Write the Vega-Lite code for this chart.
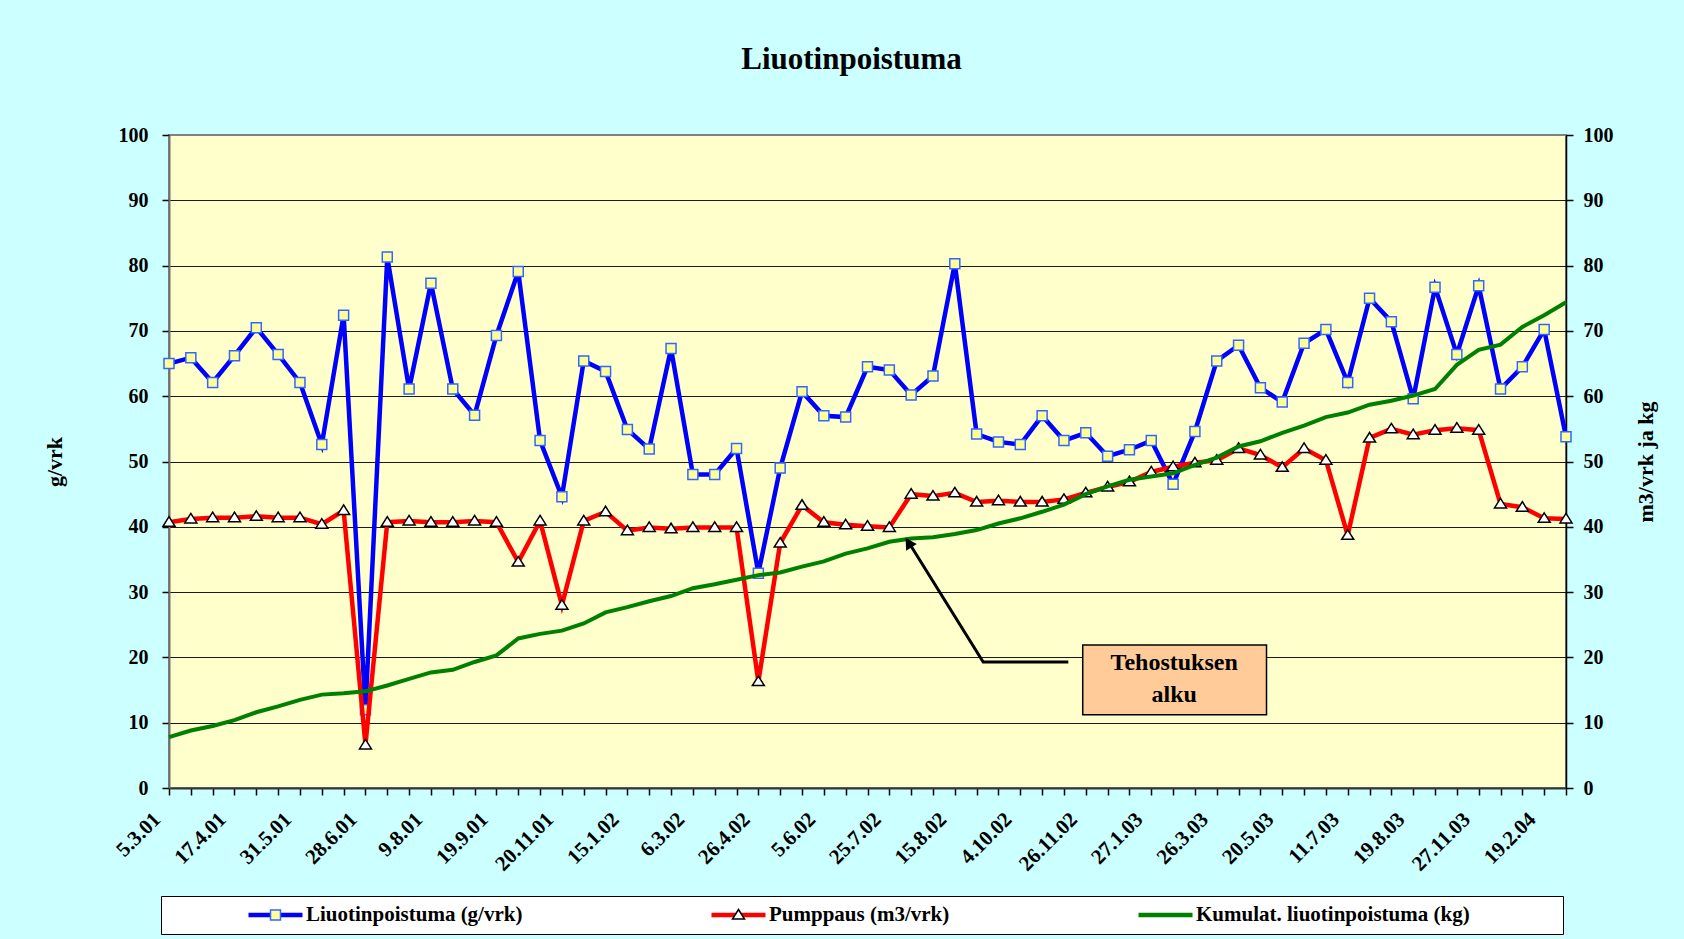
{
  "$schema": "https://vega.github.io/schema/vega-lite/v6.json",
  "width": 1397,
  "height": 653,
  "autosize": {"type": "none"},
  "padding": {"left": 169, "top": 135, "right": 118, "bottom": 151},
  "background": "#CCFFFF",
  "title": {"text": "Liuotinpoistuma", "font": "Liberation Serif", "fontSize": 31, "fontWeight": "bold", "color": "black", "anchor": "middle", "dx": -16, "offset": 25, "baseline": "alphabetic"},
  "config": {
    "view": {"fill": "#FFFFCC", "stroke": "#808080", "strokeWidth": 2},
    "axis": {"labelFont": "Liberation Serif", "labelFontSize": 20, "labelFontWeight": "bold", "labelColor": "black", "titleFont": "Liberation Serif", "titleFontSize": 22, "titleFontWeight": "bold", "titleColor": "black", "tickColor": "black", "tickSize": 7, "tickWidth": 1.5},
    "legend": {"labelFont": "Liberation Serif", "labelFontSize": 21, "labelFontWeight": "bold", "labelColor": "black", "labelLimit": 1000, "titleFont": "Liberation Serif", "titleFontSize": 10}
  },
  "datasets": {
    "main": [
      {"date":"5.3.01","series":"Liuotinpoistuma (g/vrk)","value":65.0},
      {"date":"19.3.01","series":"Liuotinpoistuma (g/vrk)","value":65.9},
      {"date":"3.4.01","series":"Liuotinpoistuma (g/vrk)","value":62.1},
      {"date":"17.4.01","series":"Liuotinpoistuma (g/vrk)","value":66.2},
      {"date":"2.5.01","series":"Liuotinpoistuma (g/vrk)","value":70.5},
      {"date":"16.5.01","series":"Liuotinpoistuma (g/vrk)","value":66.4},
      {"date":"31.5.01","series":"Liuotinpoistuma (g/vrk)","value":62.1},
      {"date":"12.6.01","series":"Liuotinpoistuma (g/vrk)","value":52.6},
      {"date":"20.6.01","series":"Liuotinpoistuma (g/vrk)","value":72.4},
      {"date":"28.6.01","series":"Liuotinpoistuma (g/vrk)","value":12.0},
      {"date":"12.7.01","series":"Liuotinpoistuma (g/vrk)","value":81.3},
      {"date":"26.7.01","series":"Liuotinpoistuma (g/vrk)","value":61.1},
      {"date":"9.8.01","series":"Liuotinpoistuma (g/vrk)","value":77.3},
      {"date":"23.8.01","series":"Liuotinpoistuma (g/vrk)","value":61.1},
      {"date":"5.9.01","series":"Liuotinpoistuma (g/vrk)","value":57.1},
      {"date":"19.9.01","series":"Liuotinpoistuma (g/vrk)","value":69.3},
      {"date":"10.10.01","series":"Liuotinpoistuma (g/vrk)","value":79.1},
      {"date":"31.10.01","series":"Liuotinpoistuma (g/vrk)","value":53.2},
      {"date":"20.11.01","series":"Liuotinpoistuma (g/vrk)","value":44.6},
      {"date":"11.12.01","series":"Liuotinpoistuma (g/vrk)","value":65.4},
      {"date":"28.12.01","series":"Liuotinpoistuma (g/vrk)","value":63.8},
      {"date":"15.1.02","series":"Liuotinpoistuma (g/vrk)","value":54.9},
      {"date":"31.1.02","series":"Liuotinpoistuma (g/vrk)","value":51.9},
      {"date":"19.2.02","series":"Liuotinpoistuma (g/vrk)","value":67.3},
      {"date":"6.3.02","series":"Liuotinpoistuma (g/vrk)","value":48.0},
      {"date":"20.3.02","series":"Liuotinpoistuma (g/vrk)","value":48.0},
      {"date":"4.4.02","series":"Liuotinpoistuma (g/vrk)","value":52.0},
      {"date":"26.4.02","series":"Liuotinpoistuma (g/vrk)","value":32.9},
      {"date":"14.5.02","series":"Liuotinpoistuma (g/vrk)","value":49.0},
      {"date":"23.5.02","series":"Liuotinpoistuma (g/vrk)","value":60.7},
      {"date":"5.6.02","series":"Liuotinpoistuma (g/vrk)","value":57.0},
      {"date":"20.6.02","series":"Liuotinpoistuma (g/vrk)","value":56.8},
      {"date":"4.7.02","series":"Liuotinpoistuma (g/vrk)","value":64.5},
      {"date":"25.7.02","series":"Liuotinpoistuma (g/vrk)","value":64.0},
      {"date":"1.8.02","series":"Liuotinpoistuma (g/vrk)","value":60.2},
      {"date":"8.8.02","series":"Liuotinpoistuma (g/vrk)","value":63.1},
      {"date":"15.8.02","series":"Liuotinpoistuma (g/vrk)","value":80.3},
      {"date":"3.9.02","series":"Liuotinpoistuma (g/vrk)","value":54.2},
      {"date":"17.9.02","series":"Liuotinpoistuma (g/vrk)","value":53.0},
      {"date":"4.10.02","series":"Liuotinpoistuma (g/vrk)","value":52.6},
      {"date":"23.10.02","series":"Liuotinpoistuma (g/vrk)","value":57.0},
      {"date":"8.11.02","series":"Liuotinpoistuma (g/vrk)","value":53.2},
      {"date":"26.11.02","series":"Liuotinpoistuma (g/vrk)","value":54.4},
      {"date":"16.12.02","series":"Liuotinpoistuma (g/vrk)","value":50.8},
      {"date":"8.1.03","series":"Liuotinpoistuma (g/vrk)","value":51.8},
      {"date":"27.1.03","series":"Liuotinpoistuma (g/vrk)","value":53.2},
      {"date":"17.2.03","series":"Liuotinpoistuma (g/vrk)","value":46.5},
      {"date":"5.3.03","series":"Liuotinpoistuma (g/vrk)","value":54.6},
      {"date":"26.3.03","series":"Liuotinpoistuma (g/vrk)","value":65.4},
      {"date":"15.4.03","series":"Liuotinpoistuma (g/vrk)","value":67.8},
      {"date":"5.5.03","series":"Liuotinpoistuma (g/vrk)","value":61.3},
      {"date":"20.5.03","series":"Liuotinpoistuma (g/vrk)","value":59.1},
      {"date":"6.6.03","series":"Liuotinpoistuma (g/vrk)","value":68.1},
      {"date":"24.6.03","series":"Liuotinpoistuma (g/vrk)","value":70.2},
      {"date":"11.7.03","series":"Liuotinpoistuma (g/vrk)","value":62.1},
      {"date":"25.7.03","series":"Liuotinpoistuma (g/vrk)","value":75.0},
      {"date":"6.8.03","series":"Liuotinpoistuma (g/vrk)","value":71.4},
      {"date":"19.8.03","series":"Liuotinpoistuma (g/vrk)","value":59.6},
      {"date":"24.9.03","series":"Liuotinpoistuma (g/vrk)","value":76.7},
      {"date":"27.10.03","series":"Liuotinpoistuma (g/vrk)","value":66.4},
      {"date":"27.11.03","series":"Liuotinpoistuma (g/vrk)","value":76.9},
      {"date":"22.12.03","series":"Liuotinpoistuma (g/vrk)","value":61.1},
      {"date":"22.1.04","series":"Liuotinpoistuma (g/vrk)","value":64.5},
      {"date":"19.2.04","series":"Liuotinpoistuma (g/vrk)","value":70.2},
      {"date":"18.3.04","series":"Liuotinpoistuma (g/vrk)","value":53.8},
      {"date":"5.3.01","series":"Pumppaus (m3/vrk)","value":40.7},
      {"date":"19.3.01","series":"Pumppaus (m3/vrk)","value":41.2},
      {"date":"3.4.01","series":"Pumppaus (m3/vrk)","value":41.4},
      {"date":"17.4.01","series":"Pumppaus (m3/vrk)","value":41.4},
      {"date":"2.5.01","series":"Pumppaus (m3/vrk)","value":41.6},
      {"date":"16.5.01","series":"Pumppaus (m3/vrk)","value":41.4},
      {"date":"31.5.01","series":"Pumppaus (m3/vrk)","value":41.4},
      {"date":"12.6.01","series":"Pumppaus (m3/vrk)","value":40.4},
      {"date":"20.6.01","series":"Pumppaus (m3/vrk)","value":42.5},
      {"date":"28.6.01","series":"Pumppaus (m3/vrk)","value":6.6},
      {"date":"12.7.01","series":"Pumppaus (m3/vrk)","value":40.7},
      {"date":"26.7.01","series":"Pumppaus (m3/vrk)","value":40.9},
      {"date":"9.8.01","series":"Pumppaus (m3/vrk)","value":40.7},
      {"date":"23.8.01","series":"Pumppaus (m3/vrk)","value":40.7},
      {"date":"5.9.01","series":"Pumppaus (m3/vrk)","value":40.9},
      {"date":"19.9.01","series":"Pumppaus (m3/vrk)","value":40.7},
      {"date":"10.10.01","series":"Pumppaus (m3/vrk)","value":34.6},
      {"date":"31.10.01","series":"Pumppaus (m3/vrk)","value":40.9},
      {"date":"20.11.01","series":"Pumppaus (m3/vrk)","value":28.0},
      {"date":"11.12.01","series":"Pumppaus (m3/vrk)","value":40.9},
      {"date":"28.12.01","series":"Pumppaus (m3/vrk)","value":42.3},
      {"date":"15.1.02","series":"Pumppaus (m3/vrk)","value":39.4},
      {"date":"31.1.02","series":"Pumppaus (m3/vrk)","value":39.9},
      {"date":"19.2.02","series":"Pumppaus (m3/vrk)","value":39.7},
      {"date":"6.3.02","series":"Pumppaus (m3/vrk)","value":39.9},
      {"date":"20.3.02","series":"Pumppaus (m3/vrk)","value":39.9},
      {"date":"4.4.02","series":"Pumppaus (m3/vrk)","value":39.9},
      {"date":"26.4.02","series":"Pumppaus (m3/vrk)","value":16.3},
      {"date":"14.5.02","series":"Pumppaus (m3/vrk)","value":37.5},
      {"date":"23.5.02","series":"Pumppaus (m3/vrk)","value":43.3},
      {"date":"5.6.02","series":"Pumppaus (m3/vrk)","value":40.7},
      {"date":"20.6.02","series":"Pumppaus (m3/vrk)","value":40.3},
      {"date":"4.7.02","series":"Pumppaus (m3/vrk)","value":40.1},
      {"date":"25.7.02","series":"Pumppaus (m3/vrk)","value":39.9},
      {"date":"1.8.02","series":"Pumppaus (m3/vrk)","value":45.0},
      {"date":"8.8.02","series":"Pumppaus (m3/vrk)","value":44.7},
      {"date":"15.8.02","series":"Pumppaus (m3/vrk)","value":45.2},
      {"date":"3.9.02","series":"Pumppaus (m3/vrk)","value":43.8},
      {"date":"17.9.02","series":"Pumppaus (m3/vrk)","value":44.0},
      {"date":"4.10.02","series":"Pumppaus (m3/vrk)","value":43.8},
      {"date":"23.10.02","series":"Pumppaus (m3/vrk)","value":43.8},
      {"date":"8.11.02","series":"Pumppaus (m3/vrk)","value":44.2},
      {"date":"26.11.02","series":"Pumppaus (m3/vrk)","value":45.2},
      {"date":"16.12.02","series":"Pumppaus (m3/vrk)","value":46.1},
      {"date":"8.1.03","series":"Pumppaus (m3/vrk)","value":46.9},
      {"date":"27.1.03","series":"Pumppaus (m3/vrk)","value":48.4},
      {"date":"17.2.03","series":"Pumppaus (m3/vrk)","value":49.2},
      {"date":"5.3.03","series":"Pumppaus (m3/vrk)","value":49.8},
      {"date":"26.3.03","series":"Pumppaus (m3/vrk)","value":50.2},
      {"date":"15.4.03","series":"Pumppaus (m3/vrk)","value":52.0},
      {"date":"5.5.03","series":"Pumppaus (m3/vrk)","value":51.0},
      {"date":"20.5.03","series":"Pumppaus (m3/vrk)","value":49.1},
      {"date":"6.6.03","series":"Pumppaus (m3/vrk)","value":52.0},
      {"date":"24.6.03","series":"Pumppaus (m3/vrk)","value":50.2},
      {"date":"11.7.03","series":"Pumppaus (m3/vrk)","value":38.7},
      {"date":"25.7.03","series":"Pumppaus (m3/vrk)","value":53.6},
      {"date":"6.8.03","series":"Pumppaus (m3/vrk)","value":55.0},
      {"date":"19.8.03","series":"Pumppaus (m3/vrk)","value":54.1},
      {"date":"24.9.03","series":"Pumppaus (m3/vrk)","value":54.8},
      {"date":"27.10.03","series":"Pumppaus (m3/vrk)","value":55.1},
      {"date":"27.11.03","series":"Pumppaus (m3/vrk)","value":54.8},
      {"date":"22.12.03","series":"Pumppaus (m3/vrk)","value":43.5},
      {"date":"22.1.04","series":"Pumppaus (m3/vrk)","value":43.0},
      {"date":"19.2.04","series":"Pumppaus (m3/vrk)","value":41.3},
      {"date":"18.3.04","series":"Pumppaus (m3/vrk)","value":41.2},
      {"date":"5.3.01","series":"Kumulat. liuotinpoistuma (kg)","value":7.8},
      {"date":"19.3.01","series":"Kumulat. liuotinpoistuma (kg)","value":8.8},
      {"date":"3.4.01","series":"Kumulat. liuotinpoistuma (kg)","value":9.5},
      {"date":"17.4.01","series":"Kumulat. liuotinpoistuma (kg)","value":10.4},
      {"date":"2.5.01","series":"Kumulat. liuotinpoistuma (kg)","value":11.6},
      {"date":"16.5.01","series":"Kumulat. liuotinpoistuma (kg)","value":12.5},
      {"date":"31.5.01","series":"Kumulat. liuotinpoistuma (kg)","value":13.5},
      {"date":"12.6.01","series":"Kumulat. liuotinpoistuma (kg)","value":14.3},
      {"date":"20.6.01","series":"Kumulat. liuotinpoistuma (kg)","value":14.5},
      {"date":"28.6.01","series":"Kumulat. liuotinpoistuma (kg)","value":14.8},
      {"date":"12.7.01","series":"Kumulat. liuotinpoistuma (kg)","value":15.7},
      {"date":"26.7.01","series":"Kumulat. liuotinpoistuma (kg)","value":16.7},
      {"date":"9.8.01","series":"Kumulat. liuotinpoistuma (kg)","value":17.7},
      {"date":"23.8.01","series":"Kumulat. liuotinpoistuma (kg)","value":18.1},
      {"date":"5.9.01","series":"Kumulat. liuotinpoistuma (kg)","value":19.3},
      {"date":"19.9.01","series":"Kumulat. liuotinpoistuma (kg)","value":20.3},
      {"date":"10.10.01","series":"Kumulat. liuotinpoistuma (kg)","value":22.9},
      {"date":"31.10.01","series":"Kumulat. liuotinpoistuma (kg)","value":23.6},
      {"date":"20.11.01","series":"Kumulat. liuotinpoistuma (kg)","value":24.1},
      {"date":"11.12.01","series":"Kumulat. liuotinpoistuma (kg)","value":25.2},
      {"date":"28.12.01","series":"Kumulat. liuotinpoistuma (kg)","value":26.9},
      {"date":"15.1.02","series":"Kumulat. liuotinpoistuma (kg)","value":27.7},
      {"date":"31.1.02","series":"Kumulat. liuotinpoistuma (kg)","value":28.6},
      {"date":"19.2.02","series":"Kumulat. liuotinpoistuma (kg)","value":29.4},
      {"date":"6.3.02","series":"Kumulat. liuotinpoistuma (kg)","value":30.6},
      {"date":"20.3.02","series":"Kumulat. liuotinpoistuma (kg)","value":31.2},
      {"date":"4.4.02","series":"Kumulat. liuotinpoistuma (kg)","value":31.9},
      {"date":"26.4.02","series":"Kumulat. liuotinpoistuma (kg)","value":32.6},
      {"date":"14.5.02","series":"Kumulat. liuotinpoistuma (kg)","value":33.0},
      {"date":"23.5.02","series":"Kumulat. liuotinpoistuma (kg)","value":33.9},
      {"date":"5.6.02","series":"Kumulat. liuotinpoistuma (kg)","value":34.7},
      {"date":"20.6.02","series":"Kumulat. liuotinpoistuma (kg)","value":35.9},
      {"date":"4.7.02","series":"Kumulat. liuotinpoistuma (kg)","value":36.7},
      {"date":"25.7.02","series":"Kumulat. liuotinpoistuma (kg)","value":37.7},
      {"date":"1.8.02","series":"Kumulat. liuotinpoistuma (kg)","value":38.2},
      {"date":"8.8.02","series":"Kumulat. liuotinpoistuma (kg)","value":38.4},
      {"date":"15.8.02","series":"Kumulat. liuotinpoistuma (kg)","value":38.9},
      {"date":"3.9.02","series":"Kumulat. liuotinpoistuma (kg)","value":39.5},
      {"date":"17.9.02","series":"Kumulat. liuotinpoistuma (kg)","value":40.5},
      {"date":"4.10.02","series":"Kumulat. liuotinpoistuma (kg)","value":41.3},
      {"date":"23.10.02","series":"Kumulat. liuotinpoistuma (kg)","value":42.3},
      {"date":"8.11.02","series":"Kumulat. liuotinpoistuma (kg)","value":43.4},
      {"date":"26.11.02","series":"Kumulat. liuotinpoistuma (kg)","value":45.0},
      {"date":"16.12.02","series":"Kumulat. liuotinpoistuma (kg)","value":46.2},
      {"date":"8.1.03","series":"Kumulat. liuotinpoistuma (kg)","value":47.2},
      {"date":"27.1.03","series":"Kumulat. liuotinpoistuma (kg)","value":47.7},
      {"date":"17.2.03","series":"Kumulat. liuotinpoistuma (kg)","value":48.2},
      {"date":"5.3.03","series":"Kumulat. liuotinpoistuma (kg)","value":49.5},
      {"date":"26.3.03","series":"Kumulat. liuotinpoistuma (kg)","value":50.6},
      {"date":"15.4.03","series":"Kumulat. liuotinpoistuma (kg)","value":52.3},
      {"date":"5.5.03","series":"Kumulat. liuotinpoistuma (kg)","value":53.1},
      {"date":"20.5.03","series":"Kumulat. liuotinpoistuma (kg)","value":54.4},
      {"date":"6.6.03","series":"Kumulat. liuotinpoistuma (kg)","value":55.5},
      {"date":"24.6.03","series":"Kumulat. liuotinpoistuma (kg)","value":56.8},
      {"date":"11.7.03","series":"Kumulat. liuotinpoistuma (kg)","value":57.5},
      {"date":"25.7.03","series":"Kumulat. liuotinpoistuma (kg)","value":58.7},
      {"date":"6.8.03","series":"Kumulat. liuotinpoistuma (kg)","value":59.3},
      {"date":"19.8.03","series":"Kumulat. liuotinpoistuma (kg)","value":60.1},
      {"date":"24.9.03","series":"Kumulat. liuotinpoistuma (kg)","value":61.1},
      {"date":"27.10.03","series":"Kumulat. liuotinpoistuma (kg)","value":64.8},
      {"date":"27.11.03","series":"Kumulat. liuotinpoistuma (kg)","value":67.1},
      {"date":"22.12.03","series":"Kumulat. liuotinpoistuma (kg)","value":67.9},
      {"date":"22.1.04","series":"Kumulat. liuotinpoistuma (kg)","value":70.6},
      {"date":"19.2.04","series":"Kumulat. liuotinpoistuma (kg)","value":72.4},
      {"date":"18.3.04","series":"Kumulat. liuotinpoistuma (kg)","value":74.4}
    ],
    "arrow": [
      {"ax": 41.2, "ay": 19.3, "o": 0},
      {"ax": 37.3, "ay": 19.3, "o": 1},
      {"ax": 33.8, "ay": 38.1, "o": 2}
    ],
    "head": [{"ax": 33.88, "ay": 37.56}],
    "note": [{"x1": 41.86, "x2": 50.28, "y1": 11.2, "y2": 21.9, "tx": 46.05, "ty": 19.2, "label": "Tehostuksen\nalku"}]
  },
  "layer": [
    {
      "data": {"name": "main"},
      "transform": [{"filter": "datum.series == 'Liuotinpoistuma (g/vrk)'"}],
      "encoding": {
        "x": {"field": "date", "type": "ordinal", "sort": null, "scale": {"type": "point", "padding": 0},
          "axis": {"orient": "bottom", "title": null, "labelAngle": -45, "labelAlign": "right", "labelBaseline": "middle", "labelFontSize": 21, "labelPadding": 21, "labelOffset": -12, "labelOverlap": false, "labelExpr": "indexof(['5.3.01','17.4.01','31.5.01','28.6.01','9.8.01','19.9.01','20.11.01','15.1.02','6.3.02','26.4.02','5.6.02','25.7.02','15.8.02','4.10.02','26.11.02','27.1.03','26.3.03','20.5.03','11.7.03','19.8.03','27.11.03','19.2.04'], datum.value) >= 0 ? datum.label : ''", "domainColor": "#333333", "domainWidth": 2, "grid": false}},
        "y": {"field": "value", "type": "quantitative", "scale": {"domain": [0, 100], "nice": false},
          "axis": {"orient": "left", "values": [0, 10, 20, 30, 40, 50, 60, 70, 80, 90, 100], "grid": true, "gridColor": {"condition": {"test": "datum.value == 100", "value": "#808080"}, "value": "#1a1a1a"}, "gridWidth": 1, "labelPadding": 14, "domainColor": "#707070", "domainWidth": 2, "title": "g/vrk", "titlePadding": 52}}
      },
      "layer": [
        {"mark": {"type": "line", "strokeWidth": 4.5},
         "encoding": {"color": {"field": "series", "type": "nominal",
           "scale": {"domain": ["Liuotinpoistuma (g/vrk)", "Pumppaus (m3/vrk)", "Kumulat. liuotinpoistuma (kg)"], "range": ["#0000FF", "#FF0000", "#008000"]},
           "legend": {"orient": "none", "legendX": -8, "legendY": 761, "direction": "horizontal", "title": " ", "titleOrient": "left", "titlePadding": 76, "padding": 9, "clipHeight": 20, "symbolType": "stroke", "symbolSize": 2916, "symbolStrokeWidth": 4.5, "labelOffset": 1, "columnPadding": 186, "fillColor": "white", "strokeColor": "black", "zindex": 0, "labelExpr": "datum.value == 'Kumulat. liuotinpoistuma (kg)' ? datum.label + '\u00a0\u00a0\u00a0\u00a0\u00a0\u00a0\u00a0\u00a0\u00a0\u00a0\u00a0\u00a0\u00a0\u00a0\u00a0\u00a0\u200b' : datum.label"}}}},
        {"mark": {"type": "point", "filled": true, "strokeWidth": 1.5, "size": 2916, "opacity": 1},
         "encoding": {
           "fill": {"field": "series", "type": "nominal", "scale": {"domain": ["Liuotinpoistuma (g/vrk)", "Pumppaus (m3/vrk)"], "range": ["#FFFF99", "#FFFFFF"]}, "legend": null},
           "stroke": {"field": "series", "type": "nominal", "scale": {"domain": ["Liuotinpoistuma (g/vrk)", "Pumppaus (m3/vrk)"], "range": ["#3366FF", "#000000"]}, "legend": null},
           "shape": {"field": "series", "type": "nominal",
           "scale": {"domain": ["Liuotinpoistuma (g/vrk)", "Pumppaus (m3/vrk)"], "range": ["M-0.185,-0.185H0.185V0.185H-0.185Z", "M0,-0.204L0.222,0.148H-0.222Z"]},
           "legend": {"orient": "none", "legendX": -8, "legendY": 761, "direction": "horizontal", "title": " ", "titleOrient": "left", "titlePadding": 76, "padding": 9, "clipHeight": 20, "symbolSize": 2916, "symbolStrokeWidth": 1.5, "symbolOffset": 1.5, "labelOffset": 1, "columnPadding": 404, "zindex": 1, "labelExpr": "''",
             "symbolFillColor": {"expr": "datum.value == 'Pumppaus (m3/vrk)' ? '#FFFFFF' : '#FFFF99'"},
             "symbolStrokeColor": {"expr": "datum.value == 'Pumppaus (m3/vrk)' ? '#000000' : '#3366FF'"}}}}}
      ]
    },
    {
      "data": {"name": "main"},
      "transform": [{"filter": "datum.series != 'Liuotinpoistuma (g/vrk)'"}],
      "encoding": {
        "x": {"field": "date", "type": "ordinal", "sort": null, "scale": {"type": "point", "padding": 0}, "axis": null},
        "y": {"field": "value", "type": "quantitative", "scale": {"domain": [0, 100], "nice": false},
          "axis": {"orient": "right", "values": [0, 10, 20, 30, 40, 50, 60, 70, 80, 90, 100], "grid": false, "labelPadding": 10, "domainColor": "black", "domainWidth": 1.5, "title": "m3/vrk ja kg", "titleAngle": 270, "titleBaseline": "top", "titlePadding": 22}}
      },
      "layer": [
        {"transform": [{"filter": "datum.series == 'Pumppaus (m3/vrk)'"}],
         "mark": {"type": "line", "strokeWidth": 4.5},
         "encoding": {"color": {"field": "series", "type": "nominal"}}},
        {"transform": [{"filter": "datum.series == 'Pumppaus (m3/vrk)'"}],
         "mark": {"type": "point", "filled": true, "strokeWidth": 1.5, "size": 2916, "opacity": 1},
         "encoding": {
           "fill": {"field": "series", "type": "nominal", "legend": null},
           "stroke": {"field": "series", "type": "nominal", "legend": null},
           "shape": {"field": "series", "type": "nominal"}}},
        {"transform": [{"filter": "datum.series == 'Kumulat. liuotinpoistuma (kg)'"}],
         "mark": {"type": "line", "strokeWidth": 4},
         "encoding": {"color": {"field": "series", "type": "nominal"}}}
      ]
    },
    {
      "layer": [
        {"data": {"name": "arrow"},
         "mark": {"type": "line", "color": "black", "strokeWidth": 3},
         "encoding": {
           "x": {"field": "ax", "type": "quantitative", "scale": {"domain": [0, 64], "nice": false, "zero": false}, "axis": null},
           "y": {"field": "ay", "type": "quantitative", "scale": {"domain": [0, 100], "nice": false}, "axis": null},
           "order": {"field": "o"}}},
        {"data": {"name": "head"},
         "mark": {"type": "point", "shape": "triangle-up", "filled": true, "color": "black", "size": 160, "angle": -32, "opacity": 1},
         "encoding": {
           "x": {"field": "ax", "type": "quantitative", "axis": null},
           "y": {"field": "ay", "type": "quantitative", "axis": null}}},
        {"data": {"name": "note"},
         "mark": {"type": "rect", "fill": "#FFCC99", "stroke": "black", "strokeWidth": 1.5},
         "encoding": {
           "x": {"field": "x1", "type": "quantitative", "axis": null},
           "x2": {"field": "x2"},
           "y": {"field": "y1", "type": "quantitative", "axis": null},
           "y2": {"field": "y2"}}},
        {"data": {"name": "note"},
         "mark": {"type": "text", "font": "Liberation Serif", "fontSize": 24, "fontWeight": "bold", "color": "black", "lineBreak": "\n", "lineHeight": 32, "align": "center", "baseline": "middle"},
         "encoding": {
           "x": {"field": "tx", "type": "quantitative", "axis": null},
           "y": {"field": "ty", "type": "quantitative", "axis": null},
           "text": {"field": "label"}}}
      ]
    }
  ],
  "resolve": {"scale": {"x": "independent", "y": "independent"}}
}
